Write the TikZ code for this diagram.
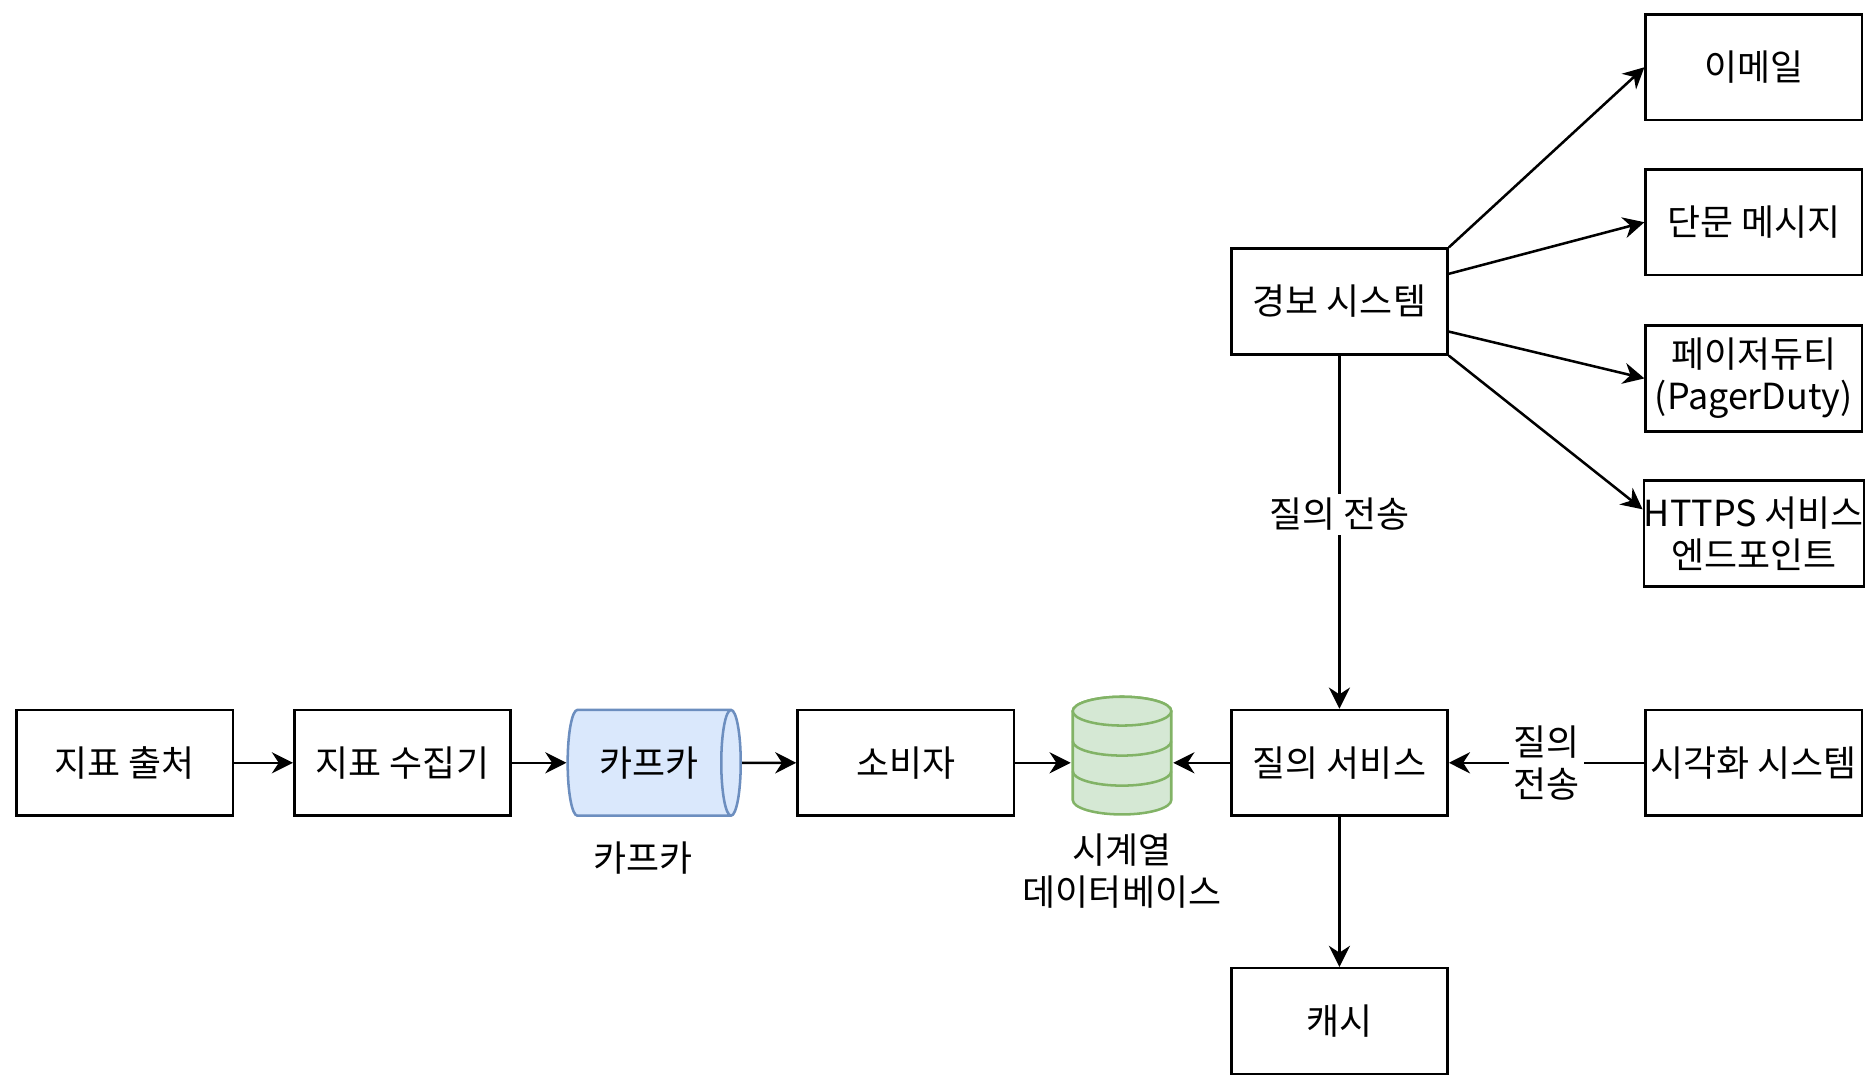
\documentclass[tikz,border=0pt]{standalone}
\usepackage{fontspec}
\setmainfont{Noto Sans CJK KR}
\usetikzlibrary{shapes.geometric,arrows.meta}
\definecolor{kafkafill}{HTML}{DAE8FC}
\definecolor{kafkaline}{HTML}{6C8EBF}
\definecolor{dbfill}{HTML}{D5E8D4}
\definecolor{dbline}{HTML}{82B366}
\tikzset{
  box/.style={draw, line width=0.6pt, minimum width=1.8cm, minimum height=0.88cm, inner sep=0, align=center},
  flow/.style={-{Stealth[length=5pt,width=5pt]}, line width=0.6pt},
  lbl/.style={fill=white, inner sep=1pt, align=center, font=\fontsize{8.5}{10}\selectfont},
  dbpart/.style={draw=dbline, fill=dbfill, line width=0.6pt},
}
\begin{document}
\begin{tikzpicture}[x=0.01cm, y=-0.01cm, font=\fontsize{8.5}{10}\selectfont]
  \useasboundingbox (0,0) rectangle (1560,904);
  % pipeline
  \node[box] (src)  at (104,635) {지표 출처};
  \node[box] (col)  at (335,635) {지표 수집기};
  \node[cylinder, shape border rotate=0, draw=kafkaline, fill=kafkafill, line width=0.6pt,
        minimum width=0.88cm, minimum height=1.44cm, aspect=0.6, inner sep=0] (kafka) at (540,635) {카프카};
  \node (kafkalbl) at (535,714) {카프카};
  \node[box] (cons) at (754,635) {소비자};
  % database
  \path[dbpart] (893,592) -- (893,666) arc[start angle=180, end angle=360, x radius=41, y radius=-12]
    -- (975,592) arc[start angle=0, end angle=180, x radius=41, y radius=-12] -- cycle;
  \draw[dbpart] (934,592) ellipse[x radius=41, y radius=12];
  \draw[dbline, line width=0.6pt] (893,617) arc[start angle=180, end angle=360, x radius=41, y radius=-12];
  \draw[dbline, line width=0.6pt] (893,642) arc[start angle=180, end angle=360, x radius=41, y radius=-12];
  \node[minimum width=0.84cm, minimum height=1.0cm, inner sep=0] (db) at (934,630) {};
  \node[align=center] (dblbl) at (934,725) {시계열\\데이터베이스};
  \node[box] (query) at (1115,635) {질의 서비스};
  \node[box] (viz)   at (1460,635) {시각화 시스템};
  \node[box] (cache) at (1115,850) {캐시};
  % alerting
  \node[box] (alert) at (1115,251) {경보 시스템};
  \node[box] (email) at (1460,56)  {이메일};
  \node[box] (sms)   at (1460,185) {단문 메시지};
  \node[box] (pager) at (1460,315) {페이저듀티\\(PagerDuty)};
  \node[box] (https) at (1460,444) {HTTPS 서비스\\엔드포인트};
  \draw[flow] (src) -- (col);
  \draw[flow] (col) -- (kafka);
  \draw[flow] (kafka) -- (cons);
  \draw[flow] (cons.east) -- (db.west |- cons.east);
  \draw[flow] (query.west) -- (db.east |- query.west);
  \draw[flow] (query) -- (cache);
  \draw[flow] (viz) -- node[lbl] {질의\\전송} (query);
  \draw[flow] (alert) -- node[lbl, pos=0.45] {질의 전송} (query);
  \draw[flow] (alert.north east) -- (email.west);
  \draw[flow] ([yshift=-0.22cm]alert.north east) -- (sms.west);
  \draw[flow] ([yshift=0.2cm]alert.south east) -- (pager.west);
  \draw[flow] (alert.south east) -- ([yshift=0.2cm]https.west);
\end{tikzpicture}
\end{document}
